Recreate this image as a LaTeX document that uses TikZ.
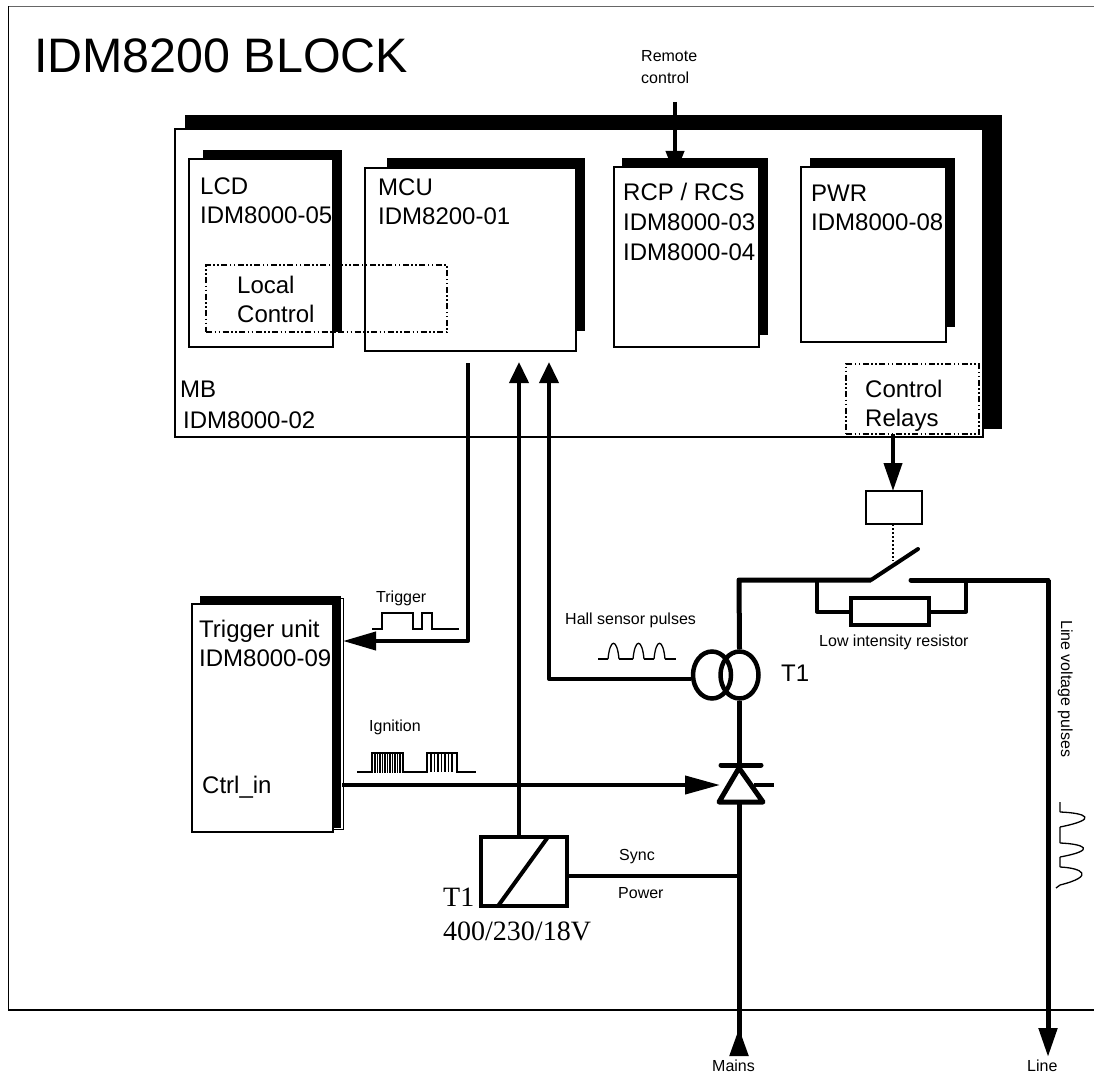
\documentclass[tikz,border=0pt]{standalone}
\usepackage{fontspec}
\setmainfont{Liberation Sans}
\newfontfamily\serifLabel{Liberation Serif}
\usetikzlibrary{arrows.meta,shapes.geometric}
\tikzstyle{blockPlan} = [x = 1pt, y = -1pt]
\tikzstyle{frameLine} = [line width = 1.2pt]
\tikzstyle{boardStyle} = [draw, fill=white, line width = 2.5pt, rectangle, anchor = north west, inner sep = 0, outer sep = 0]
\tikzstyle{groupStyle} = [draw, line width = 2.5pt, rectangle, anchor = north west, inner sep = 0, outer sep = 0, dash pattern = on 6pt off 2.5pt on 1.5pt off 2.5pt on 1.5pt off 2.5pt]
\tikzstyle{bigText} = [font=\fontsize{24}{29}\selectfont, align=left, anchor=base west, inner sep=0]
\tikzstyle{smallText} = [font=\fontsize{16}{22}\selectfont, align=left, anchor=base west, inner sep=0]
\tikzstyle{serifText} = [font=\serifLabel\fontsize{28}{34}\selectfont, align=left, anchor=base west, inner sep=0]
\tikzstyle{signalLine} = [line width = 4pt, line join = round]
\tikzstyle{powerLine} = [line width = 5pt, line join = round]
\tikzstyle{pulseLine} = [line width = 1.3pt]
\tikzstyle{coilStyle} = [draw, ellipse, line width = 4.5pt, inner sep = 0, minimum width = 38pt, minimum height = 47pt]
\tikzstyle{bigArrow} = [-{Triangle[length=33pt, width=18pt]}]
\tikzstyle{upArrow} = [-{Triangle[length=21pt, width=19pt]}]
\newcommand{\boardShadow}[4]{\fill (#1, #2) rectangle (#3, #4);}
\newcommand{\boardBox}[5]{\node [boardStyle, minimum width = #4pt, minimum height = #5pt] (#1) at (#2, #3) {};}
\begin{document}
\begin{tikzpicture}[blockPlan]
  \useasboundingbox (0,0) rectangle (1094,1075);
  \draw [frameLine, black!60] (8,6.5) -- (1094,6.5);
  \draw [frameLine] (8.5,6.5) -- (8.5,1010) -- (1094,1010);
  \node [anchor=base west, inner sep=0, font=\fontsize{48.4}{48}\selectfont] (titleText) at (34,73) {IDM8200 BLOCK};

  % main board
  \boardShadow{185}{115}{1002}{429}
  \boardBox{mainBoard}{175}{129}{808}{308}
  \node [bigText] (mbName) at (180,397) {MB};
  \node [bigText] (mbCode) at (183,428) {IDM8000-02};

  % remote control goes under the RCP board
  \coordinate (remoteStart) at (675,102);
  \coordinate (remoteIn) at (675,175);
  \draw [signalLine, -{Triangle[length=24pt, width=18pt]}] (remoteStart) -- (remoteIn);
  \node [smallText, font=\fontsize{16}{22}\selectfont] (remoteText) at (641,84) {Remote\\control};

  % boards
  \boardShadow{203}{150}{342}{332}
  \boardBox{lcdBoard}{189}{159}{144}{188}
  \node [bigText] (lcdText) at (200,224) {LCD\\IDM8000-05};

  \boardShadow{387}{158}{585}{331}
  \boardBox{mcuBoard}{365}{168}{211}{183}
  \node [bigText] (mcuText) at (378,225) {MCU\\IDM8200-01};

  \boardShadow{622}{158}{768}{335}
  \boardBox{rcpBoard}{614}{167}{145}{180}
  \node [bigText, font=\fontsize{24}{29.5}\selectfont] (rcpText) at (623,260) {RCP / RCS\\IDM8000-03\\IDM8000-04};

  \boardShadow{810}{158}{955}{327}
  \boardBox{pwrBoard}{801}{167}{145}{175}
  \node [bigText] (pwrText) at (811,231) {PWR\\IDM8000-08};

  \node [groupStyle, minimum width = 241pt, minimum height = 67pt] (localGroup) at (206,265) {};
  \node [bigText] (localText) at (237,322) {Local\\Control};
  \node [groupStyle, minimum width = 133pt, minimum height = 70pt] (relayGroup) at (846,364) {};
  \node [bigText] (relayText) at (865,426) {Control\\Relays};

  % trigger unit
  \draw [line width = 1pt] (200,598) rectangle (343.5,829);
  \boardShadow{200}{596}{341}{828}
  \boardBox{triggerUnit}{192}{604}{141}{228}
  \node [bigText] (triggerText) at (199,666) {Trigger unit\\IDM8000-09};
  \node [bigText] (ctrlText) at (202,793) {Ctrl\_in};

  % transformer for the supply
  \node [boardStyle, line width = 4pt, minimum width = 86pt, minimum height = 69pt] (supplyBox) at (481,837) {};
  \draw [signalLine] ([xshift=17pt]supplyBox.south west) -- ([xshift=67pt]supplyBox.north west);
  \node [serifText] (supplyText) at (443,940) {T1\\400/230/18V};

  % current transformer
  \node [coilStyle] (coilLeft) at (712,675) {};
  \node [coilStyle] (coilRight) at (739.5,675) {};
  \node [bigText] (coilText) at (781,681) {T1};

  % thyristor
  \coordinate (thyApex) at (739,768);
  \coordinate (thyBase) at (739,802);
  \coordinate (thyLeft) at (719,802);
  \coordinate (thyRight) at (763,802);
  \coordinate (thyBarLeft) at (721,765);
  \coordinate (thyBarRight) at (761,765);
  \coordinate (thyGate) at (774,785);
  \draw [powerLine] (thyApex) -- (thyLeft) -- (thyRight) -- cycle;
  \draw [powerLine, line cap = round] (thyBarLeft) -- (thyBarRight);
  \draw [signalLine] (754,785) -- (thyGate);

  % power path
  \coordinate (mainCorner) at (739,580);
  \coordinate (switchLeft) at (871,580);
  \coordinate (switchTip) at (918,549);
  \coordinate (switchRight) at (911,580);
  \coordinate (lineCorner) at (1048,580);
  \coordinate (lineEnd) at (1048,1057);
  \coordinate (mainsEnd) at (739,1056);
  \coordinate (syncJoin) at (739,876);
  \draw [powerLine] (coilRight.north) -- (mainCorner) -- (switchLeft);
  \draw [signalLine, line cap = round] (switchLeft) -- (switchTip);
  \draw [powerLine, line cap = round] (switchRight) -- (lineCorner);
  \draw [powerLine, -{Triangle[length=29pt, width=18pt]}] (lineCorner) -- (lineEnd);
  \draw [powerLine] (coilRight.south) -- (thyBarLeft -| coilRight);
  \draw [powerLine, -{Triangle[reversed, length=28pt, width=18pt]}] (thyBase) -- (mainsEnd);
  \draw [signalLine] (supplyBox.east |- syncJoin) -- (syncJoin);

  % bypass resistor
  \node [boardStyle, line width = 4pt, minimum width = 78pt, minimum height = 27pt] (lowResistor) at (851,598) {};
  \coordinate (bypassLeft) at (817,580);
  \coordinate (bypassRight) at (966,580);
  \draw [signalLine] (bypassLeft) |- (lowResistor.west);
  \draw [signalLine] (bypassRight) |- (lowResistor.east);
  \node [smallText] (resistorText) at (819,646) {Low intensity resistor};

  % relay coil
  \node [boardStyle, minimum width = 56pt, minimum height = 33pt] (relayBox) at (866,491) {};
  \coordinate (relayOut) at (893,434);
  \coordinate (switchLink) at (893,561);
  \draw [signalLine, -{Triangle[length=28pt, width=18pt]}] (relayOut) -- (relayOut |- relayBox.north);
  \draw [line width = 2pt, dotted] (relayOut |- relayBox.south) -- (switchLink);

  % signals
  \coordinate (triggerOut) at (468,363);
  \coordinate (triggerIn) at (343,641);
  \coordinate (mcuSupply) at (519,362);
  \coordinate (mcuHall) at (549,362);
  \coordinate (gateIn) at (720,785);
  \coordinate (gateOut) at (342,785);
  \draw [signalLine, bigArrow] (triggerOut) |- (triggerIn);
  \draw [signalLine, upArrow] (mcuSupply |- supplyBox.north) -- (mcuSupply);
  \draw [signalLine, upArrow] ([yshift=-4pt]coilLeft.west) -| (mcuHall);
  \draw [signalLine, -{Triangle[length=35pt, width=18pt]}] (gateOut) -- (gateIn);

  % labels
  \node [smallText] (triggerLabel) at (376,602) {Trigger};
  \node [smallText] (hallLabel) at (565,624) {Hall sensor pulses};
  \node [smallText] (ignitionLabel) at (369,731) {Ignition};
  \node [smallText] (syncLabel) at (619,860) {Sync};
  \node [smallText] (powerLabel) at (618,898) {Power};
  \node [smallText] (mainsLabel) at (712,1071) {Mains};
  \node [smallText] (lineLabel) at (1027,1071) {Line};
  \node [smallText, rotate=-90] (lineVoltageLabel) at (1061,620) {Line voltage pulses};

  % pulse shapes
  \draw [pulseLine] (372,629) -- (382,629) -- (382,613) -- (413,613) -- (413,629) -- (422,629) -- (422,613) -- (432,613) -- (432,629) -- (459,629);

  \draw [pulseLine] (598,659) -- (608,659) (619,659) -- (633,659) (644,659) -- (654,659) (665,659) -- (676,659);
  \foreach \pulse in {608,633,654} {
    \draw [pulseLine] (\pulse,659) .. controls (\pulse+2,638) and (\pulse+9,638) .. (\pulse+11,659);
  }

  \draw [pulseLine] (357,772) -- (372,772) -- (372,753) -- (403,753) -- (403,772) -- (427,772) -- (427,753) -- (457,753) -- (457,772) -- (476,772);
  \foreach \tick in {375,377.5,...,401} {
    \draw [pulseLine] (\tick,753) -- (\tick,773);
  }
  \foreach \tick in {431,434.5,...,454} {
    \draw [pulseLine] (\tick,753) -- (\tick,772);
  }

  \draw [pulseLine] (1060,802) -- (1060,812) (1060,827) -- (1060,843) (1060,857) -- (1060,867) (1060,885) -- (1056,888);
  \draw [pulseLine] (1060,812) .. controls (1086,813) and (1100,819) .. (1060,827);
  \draw [pulseLine] (1060,843) .. controls (1084,844) and (1098,850) .. (1060,857);
  \draw [pulseLine] (1060,867) .. controls (1082,868) and (1096,876) .. (1060,885);
\end{tikzpicture}
\end{document}
